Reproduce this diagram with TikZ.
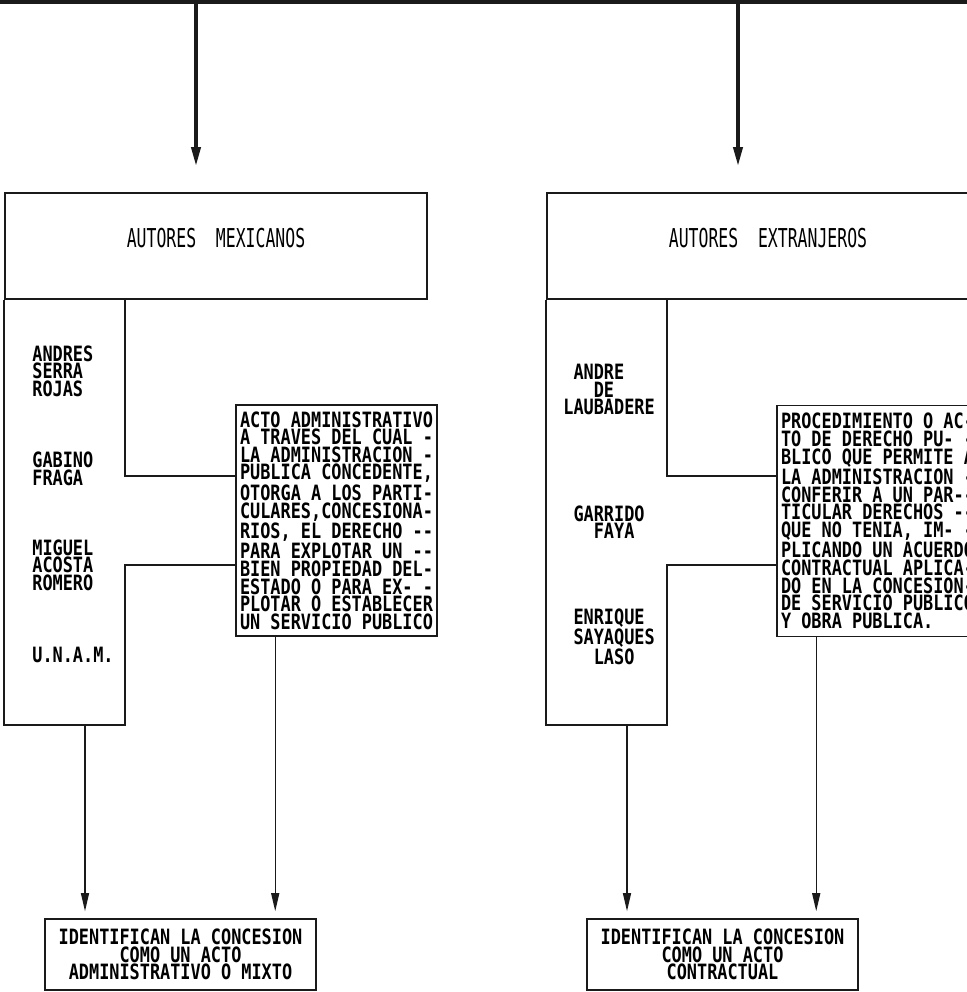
\documentclass[tikz,border=0pt]{standalone}
\usepackage{fontspec}
\usepackage{tikz}
\usetikzlibrary{arrows.meta, calc, positioning}
\newfontfamily\plotfont[FakeStretch=0.8]{DejaVu Sans Mono}
\newfontfamily\plotheadfont[FakeStretch=0.633]{DejaVu Sans Mono}
\definecolor{Ink}{HTML}{1A1A1A}
\newcommand{\twodash}{-\kern0pt-}

\begin{document}
\begin{tikzpicture}[x=0.02cm, y=-0.02cm,
    box/.style={draw=Ink, line width=0.9pt, inner sep=0pt},
    hdr/.style={box, minimum height=2.12cm, text depth=0.34cm,
      font=\plotheadfont\fontsize{14.8}{14}\selectfont},
    txt/.style={inner sep=0pt, align=left, font=\plotfont\bfseries\fontsize{12}{10.05}\selectfont},
    defbox/.style={box, txt, minimum width=4.02cm, minimum height=4.62cm},
    endbox/.style={box, txt, align=center, minimum width=5.42cm, minimum height=1.42cm},
    colline/.style={draw=Ink, line width=0.9pt},
    bigarr/.style={draw=Ink, line width=2pt, -{Triangle[length=0.38cm, width=0.18cm]}, shorten >=0.52cm},
    arr/.style={draw=Ink, line width=0.75pt, -{Triangle[length=0.36cm, width=0.16cm]}, shorten >=0.14cm}]
  \useasboundingbox (0,0) rectangle (967,992);
  \clip (0,0) rectangle (967,992);

  \coordinate (busW) at (0,1.8);
  \coordinate (busE) at (967,1.8);
  \draw[Ink, line width=2pt] (busW) -- (busE);

  \node[hdr, minimum width=8.44cm] (hdrL) at (216,246) {AUTORES~~MEXICANOS\hspace{0.2cm}};
  \node[hdr, minimum width=8.84cm] (hdrR) at (768,246) {AUTORES~~EXTRANJEROS\hspace{0.2cm}};

  \coordinate (busL) at (196,1.8);
  \coordinate (busR) at (738,1.8);
  \draw[bigarr] (busL) -- (busL |- hdrL.north);
  \draw[bigarr] (busR) -- (busR |- hdrR.north);

  \node[defbox] (defL) at (336.5,520.5) {ACTO ADMINISTRATIVO\\A TRAVES DEL CUAL -\\LA ADMINISTRACION -\\PUBLICA CONCEDENTE,\\OTORGA A LOS PARTI-\\CULARES,CONCESIONA-\\RIOS, EL DERECHO \twodash\\PARA EXPLOTAR UN \twodash\\BIEN PROPIEDAD DEL-\\ESTADO O PARA EX- -\\PLOTAR O ESTABLECER\\UN SERVICIO PUBLICO};
  \node[defbox] (defR) at (877.5,521) {PROCEDIMIENTO O AC-\\TO DE DERECHO PU- -\\BLICO QUE PERMITE A\\LA ADMINISTRACION -\\CONFERIR A UN PAR\twodash\\TICULAR DERECHOS \twodash\\QUE NO TENIA, IM- -\\PLICANDO UN ACUERDO\\CONTRACTUAL APLICA-\\DO EN LA CONCESION-\\DE SERVICIO PUBLICO\\Y OBRA PUBLICA.};

  \node[txt, anchor=west] (serra) at (32,371) {ANDRES\\SERRA\\ROJAS};
  \node[txt, anchor=west] (fraga) at (32,469) {GABINO\\FRAGA};
  \node[txt, anchor=west] (acosta) at (32,565) {MIGUEL\\ACOSTA\\ROMERO};
  \node[txt, anchor=west] (unam) at (32,655) {U.N.A.M.};

  \node[txt, anchor=west] (laubadere) at (563,389.5) {\phantom{X}ANDRE\\\phantom{XXX}DE\\LAUBADERE};
  \node[txt, anchor=west] (faya) at (563,522) {\phantom{X}GARRIDO\\\phantom{XXX}FAYA};
  \node[txt, anchor=west] (sayaques) at (563,637) {\phantom{X}ENRIQUE\\\phantom{X}SAYAQUES\\\phantom{XXX}LASO};

  \coordinate (mexA) at (125,476);
  \coordinate (mexB) at (125,565);
  \coordinate (mexC) at (125,725);
  \draw[colline] (hdrL.south west) -- (hdrL.south west |- mexC) -- (mexC) -- (mexB) -- (mexB -| defL.west);
  \draw[colline] (hdrL.south -| mexA) -- (mexA) -- (mexA -| defL.west);

  \coordinate (extA) at (667,476);
  \coordinate (extB) at (667,565);
  \coordinate (extC) at (667,725);
  \draw[colline] (hdrR.south west) -- (hdrR.south west |- extC) -- (extC) -- (extB) -- (extB -| defR.west);
  \draw[colline] (hdrR.south -| extA) -- (extA) -- (extA -| defR.west);

  \node[endbox] (endL) at (180.5,954.5) {IDENTIFICAN LA CONCESION\\COMO UN ACTO\\ADMINISTRATIVO O MIXTO};
  \node[endbox] (endR) at (722.5,954.5) {IDENTIFICAN LA CONCESION\\COMO UN ACTO\\CONTRACTUAL};

  \coordinate (mexOut) at (85,725);
  \coordinate (extOut) at (627,725);
  \draw[arr] (mexOut) -- (mexOut |- endL.north);
  \draw[arr] ([xshift=0.8cm]defL.south west) -- ([xshift=0.8cm]defL.south west |- endL.north);
  \draw[arr] (extOut) -- (extOut |- endR.north);
  \draw[arr] ([xshift=0.8cm]defR.south west) -- ([xshift=0.8cm]defR.south west |- endR.north);
\end{tikzpicture}
\end{document}
